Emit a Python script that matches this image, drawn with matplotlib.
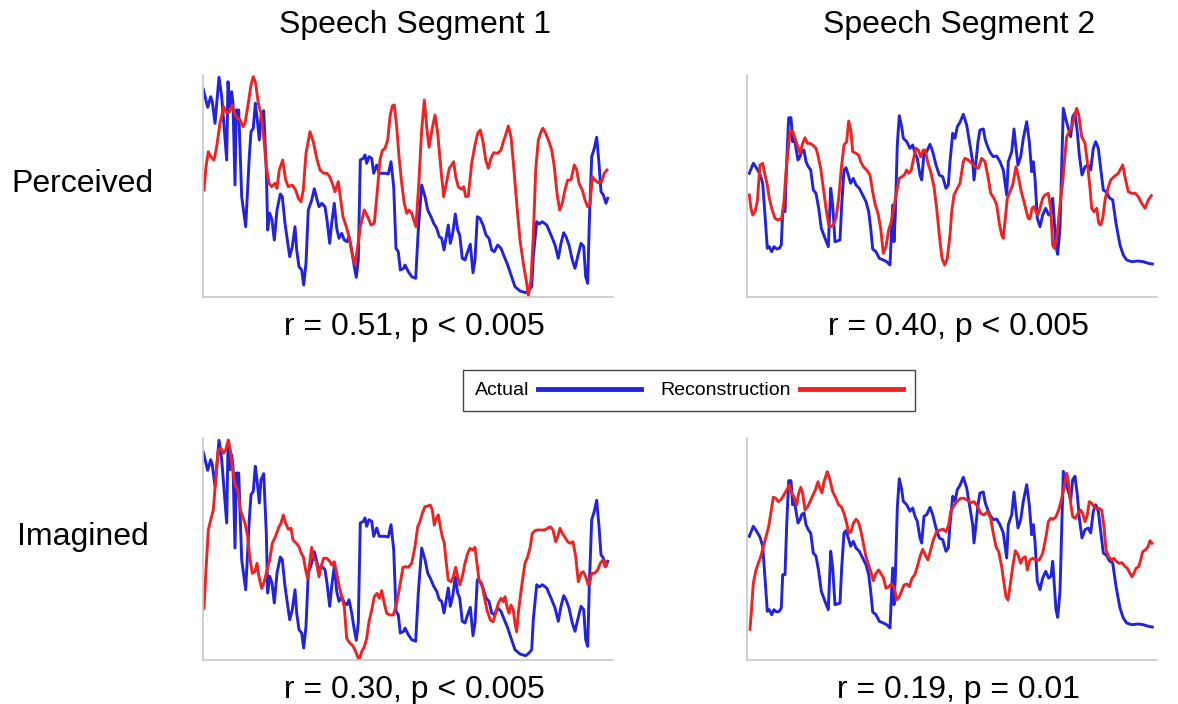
import matplotlib
matplotlib.use("Agg")
import matplotlib.pyplot as plt
from matplotlib.lines import Line2D

plt.rcParams['font.family'] = ['Liberation Sans', 'DejaVu Sans']

# ---------------------------------------------------------------- data
# time axis in frames, amplitude in arbitrary envelope units
segment_titles = ["Speech Segment 1", "Speech Segment 2"]
condition_labels = ["Perceived", "Imagined"]
stat_labels = [["r = 0.51, p < 0.005", "r = 0.40, p < 0.005"],
               ["r = 0.30, p < 0.005", "r = 0.19, p = 0.01"]]
legend_labels = ["Actual", "Reconstruction"]

actual1_t = [0.3, 4.7, 7.7, 9.3, 12, 16, 18.7, 23.7, 25, 26.7, 28.7, 30, 32, 33.3, 35.7, 38.7, 42.7, 46.3,
             48, 50.3, 52.3, 54, 56.3, 58, 60.7, 63.3, 64.7, 66.7, 69, 71.3, 74, 77.3, 79.3, 82, 86.7, 89.3,
             92, 93.7, 96, 98.7, 100.7, 103, 105.3, 108.7, 111.3, 113.7, 116, 118.7, 122, 124, 126.7, 128.7,
             131.3, 133.7, 136, 138.7, 141.3, 144, 146, 148.7, 151.3, 153.3, 155.3, 157.3, 160.3, 162, 163.7,
             166, 168.7, 170.7, 173.7, 176.3, 182, 185.3, 188, 190.7, 193, 195.3, 197.3, 200.7, 202, 205.3,
             208.7, 212.7, 215.3, 218.7, 222, 224.7, 228, 230.7, 233.7, 236.3, 238.7, 241, 243.3, 245.3, 247.3,
             249.7, 252.3, 254.7, 256.7, 259.3, 262, 264.3, 267.3, 270, 272, 274.3, 277, 280, 283, 286, 288.7,
             291.3, 294.7, 298, 301.3, 304.7, 308, 312, 317, 322.7, 326, 328.7, 330.3, 333.7, 336.3, 339.3,
             343.7, 348.7, 352, 355.3, 358, 360.7, 363, 366, 369.3, 372, 374.7, 378, 380.7, 382.7, 384.7, 386.3,
             388.7, 391.3, 393.7, 396, 398, 400.3, 403, 404.7]
actual1_v = [207.7, 189.7, 200.3, 195.3, 173.7, 219.7, 200.3, 137, 215.3, 190.3, 205.3, 193.7, 112, 187, 187,
             100.3, 70.3, 140.3, 165.3, 168.7, 193.7, 180.3, 157, 180.3, 186.3, 127, 67, 83.7, 77, 57, 87, 103,
             100.3, 73.7, 40.3, 50.3, 70.3, 47, 30.3, 27, 12, 33.7, 87, 97, 108.3, 98.7, 90.3, 93.7, 90.3, 77,
             53.7, 73.7, 93.7, 68.7, 58.7, 63.7, 57, 55.3, 60.3, 47, 30.3, 19.7, 37, 137, 138.7, 142, 133.7,
             140.3, 138.7, 123.7, 132, 123.7, 123.7, 123, 135.3, 110.3, 48.7, 45.3, 27, 28.7, 32, 25.3, 20.3,
             18.7, 67, 112, 100.3, 87, 80.3, 73.7, 68.7, 60.3, 58.7, 47, 60.3, 72, 53.7, 63.7, 83, 67, 62, 38.7,
             37, 44.3, 52.7, 24.3, 37, 80.3, 78.7, 72, 62, 58.7, 47, 45.3, 52, 48.7, 40.3, 32, 22, 10.3, 6, 4.3,
             7, 10.3, 40.3, 75.3, 73, 75.3, 72, 60.3, 52, 38.7, 53.7, 64.3, 60.3, 52, 37, 28.7, 40.3, 53.7, 50.3,
             20.3, 13.7, 73.7, 140.3, 148.7, 159.7, 133.7, 105.3, 102, 93.7, 98.7]

perceived1_t = [1, 3, 5.3, 7.7, 11, 13.7, 17, 20.7, 23.7, 26.7, 29.3, 32, 34.7, 37.3, 40, 42, 45.3, 48, 50.3,
                52.7, 55.3, 58, 61, 63.3, 66, 68.7, 72, 74, 76.3, 79.7, 82.7, 85.3, 89.3, 92.7, 95.3, 98, 100.3,
                103, 107, 110.3, 113.7, 117, 120.7, 124, 126.7, 129.3, 132, 135.3, 137.3, 140, 143.3, 146, 148.7,
                152, 154.7, 157.3, 161.3, 164.7, 168, 171.3, 174.7, 177, 179.3, 182, 184.7, 187, 189.3, 191.3,
                193.7, 196, 198.7, 201.3, 203.7, 206, 208.7, 213, 216, 218.7, 221.3, 223.7, 226, 229.3, 232,
                234.7, 238, 240.7, 243.3, 246.3, 248.7, 250.7, 252.7, 255.3, 258.7, 260.7, 262.7, 265.3, 268.7,
                272, 274.7, 277.3, 280, 282.7, 285.3, 288, 290.7, 294.7, 298, 300.3, 302.7, 305.3, 308, 310.7,
                314, 317, 320.3, 323.7, 325.3, 328, 330.3, 332.7, 335.3, 338.7, 340, 342.7, 346, 348.7, 351.3,
                354, 356.7, 359.3, 362, 364.7, 368, 371.3, 373.7, 376, 379.3, 382, 384.7, 387, 389.3, 392, 395.3,
                398.7, 401.3, 404]
perceived1_v = [107, 130.3, 145.3, 140.3, 137, 150.3, 173.7, 190.3, 183.7, 185.3, 192, 182, 178.7, 177, 170.3,
                173.7, 193.7, 212, 220.3, 213.7, 193.7, 183.7, 157, 130.3, 113.7, 110.3, 113.7, 108.7, 127, 137,
                117, 110.3, 112, 107, 98.7, 95.3, 107, 143.7, 165.3, 155.3, 138.7, 127, 123.7, 123.7, 120.3, 113.7,
                105.3, 115.3, 100.3, 80.3, 70.3, 60.3, 45.3, 32, 50.3, 70.3, 87, 80.3, 72, 73.7, 110.3, 137, 146.3,
                148.7, 157, 180.3, 191, 192, 170.3, 140.3, 113.7, 93.7, 83.7, 87, 83.7, 70.3, 117, 167, 197, 170.3,
                149.7, 168.7, 182, 163.7, 127, 100.3, 113.7, 128.7, 132, 135.3, 120.3, 110.3, 107.7, 110.3, 100.3,
                101, 133.7, 152, 163.7, 167, 155.3, 137, 128.7, 138.7, 144.3, 143.7, 147, 155.3, 162, 171, 160.3,
                130.3, 90.3, 57, 33.7, 13.7, 1, 17, 60.3, 127, 157, 167, 168.7, 163.7, 155.3, 147, 130.3, 103.7, 87,
                93.7, 107, 117, 117, 132, 127, 113.7, 107, 97, 90.3, 92, 120.3, 117, 114.3, 115.3, 123.7, 127]

imagined1_t = [1, 3, 5.3, 7.7, 10.3, 12.7, 15.3, 18, 20.3, 22.7, 25.3, 27.3, 29.3, 32, 34.7, 37, 39.7, 42, 44.7,
               46.7, 49.3, 52, 54, 56, 58.7, 61.3, 64, 66.7, 69.3, 72.7, 76, 78, 80.3, 82.7, 85.3, 88, 90, 93.3,
               96, 98, 100.3, 102.7, 104.7, 106.7, 108.7, 110.7, 113.3, 116, 118, 120.7, 124, 127, 128.7, 131.3,
               133.7, 136.3, 138.7, 141.3, 143.7, 147, 149.3, 152, 154.7, 156, 158.7, 161.3, 163.7, 166, 168.7,
               171.3, 174, 176.3, 178.7, 181.3, 183.7, 187, 190.3, 193.7, 197, 200, 202.7, 205.3, 208.7, 212,
               214.7, 217, 219.3, 222, 224.7, 227.3, 229.3, 231.3, 233.3, 235.3, 237.3, 239.3, 241.3, 243.3,
               245.3, 248, 250.3, 252.7, 254.7, 256.7, 259.3, 262, 264.7, 267, 269.7, 272, 274, 276, 278.7, 281.3,
               284, 287.3, 290, 292.7, 295.3, 298, 300.3, 302, 304, 306, 308, 310.3, 312, 313.7, 315.3, 317.3,
               319.3, 322, 324.7, 327.3, 329.3, 332, 334.7, 338, 341.3, 344.7, 347.3, 350, 352.7, 354.7, 357,
               359.3, 362, 364.7, 367.3, 370, 372.7, 375.3, 378, 380.3, 382.7, 385.3, 387, 388.7, 391.3, 394.7,
               397.3, 400, 402, 404]
imagined1_v = [51.7, 90, 130, 140, 150, 180, 210, 211.7, 206.7, 210, 220, 210, 193.3, 175, 170, 151.7, 143.3,
               136.7, 123.3, 103.3, 86.7, 88.3, 96.7, 83.3, 71.7, 78.3, 90, 100, 116.7, 124, 133.3, 136.7, 145,
               136.7, 130.7, 131.7, 120, 116.7, 113.3, 107.3, 103.3, 90, 81.7, 96.7, 112.7, 101.7, 98.3, 83.3, 93.3,
               101.7, 101.7, 98.3, 95, 98.3, 86.7, 73.3, 63.3, 53.3, 21.7, 16.7, 15, 10, 3.3, 0, 8.3, 13.3, 21.7,
               38.3, 50, 63.3, 66.7, 61.7, 69.3, 56.7, 46.7, 45, 45, 56.7, 75, 92.7, 93.3, 92.7, 96.7, 113.3, 133.3,
               138.3, 146.7, 153.3, 154, 155, 150, 135, 141.7, 145, 133.3, 123.3, 116.7, 96.7, 80, 78.3, 83.3, 92.7,
               83.3, 75, 83.3, 96.7, 106.7, 111.7, 110, 112.7, 96.7, 80, 76.7, 63.3, 50, 40, 38.3, 46.7, 56.7, 61.7,
               58.3, 63.3, 53.3, 46.7, 55, 50, 36.7, 28.3, 46.7, 63.3, 78.3, 96.7, 103.3, 113.3, 126.7, 129.3, 130,
               130, 130, 131.7, 133.3, 130, 118.3, 123.3, 131.7, 126.7, 122.7, 118.3, 116.7, 118.3, 103.3, 78.3,
               86.7, 88.3, 83.3, 75, 78.3, 86.7, 86.7, 90, 96.7, 100, 93.3, 96.7]

actual2_t = [2.3, 6.3, 9.7, 13, 15.7, 18, 20.3, 22.3, 24.7, 27, 29.7, 32.3, 34.3, 35.7, 38, 39.7, 41.7, 44,
             45.7, 47.3, 49, 51, 53, 54.7, 57, 59, 61.3, 63.7, 66.3, 69, 71.7, 74.3, 78, 81.3, 83.7, 85.7, 88,
             90.3, 93, 94.7, 97, 99, 101.3, 103.7, 106.3, 109, 112.3, 115.7, 119, 121.7, 123.7, 125.7, 129,
             132.3, 136.3, 139.7, 143, 144.3, 145.7, 147, 148.3, 150.3, 152.3, 154.7, 156.3, 159.7, 163, 165.7,
             168, 170.3, 173, 174.7, 177, 179.7, 183, 185.7, 189, 192.3, 195.7, 199, 201.3, 203, 205.7, 208,
             210.3, 213, 216.3, 219.7, 223, 225.7, 227, 229, 231, 233, 236.3, 238.3, 241.3, 243.7, 246.3, 249.7,
             253, 256.3, 259.7, 261.3, 264.7, 267, 269, 271, 273.7, 276.3, 279.7, 282.3, 284.7, 286.3, 288,
             290.3, 293, 295.7, 298.7, 301.7, 304, 305.7, 307.3, 309, 310.7, 313, 314.7, 316.3, 319, 321.3,
             323.7, 325.7, 328, 330.3, 332.3, 335, 338, 341.3, 343.7, 346.3, 348.7, 351.3, 353.7, 356.3, 359.7,
             362.3, 365.7, 369, 373, 376.3, 379.7, 384.7, 391.3, 396.3, 401.3, 405.3]
actual2_v = [123.7, 133.7, 128.7, 122.7, 113.7, 82, 48.7, 50.3, 45.3, 50.3, 48, 48.7, 52, 85.3, 85.3, 135.3,
             179.3, 179.3, 155.3, 160.3, 148.7, 137, 140.3, 145.3, 147, 135.3, 130.3, 127, 107, 103.7, 88.7, 68.7,
             58.7, 50.3, 108.7, 92, 55.3, 56, 57, 92, 127, 129.3, 122, 113.7, 118.7, 112, 108.7, 102, 95.3, 85.3,
             68.7, 48, 45.3, 38.7, 37, 35.3, 32, 62, 92, 55.3, 82, 152, 181.3, 170.3, 158.7, 155.3, 148.7, 152,
             143.7, 138.7, 122, 117, 143.7, 145.3, 152.7, 145.3, 132, 122, 120.3, 108.7, 112, 135.3, 163.7,
             158.7, 170.3, 174.7, 182.7, 172, 152, 135.3, 117, 135.3, 155.3, 167, 168, 157, 148.7, 143.7, 140.3,
             141, 135.3, 127, 102, 135.3, 145.3, 168, 148.7, 132, 140.3, 158.7, 175.3, 155.3, 125.3, 135.3,
             118.7, 78.7, 70.3, 82, 88.7, 82, 83.7, 98.7, 75.3, 50.3, 42.7, 68.7, 128.7, 188.7, 177, 168.7,
             160.3, 180.3, 183.7, 165.3, 142, 122, 130.3, 132, 127, 148.7, 155.3, 148.7, 128.7, 107, 104.7, 99.3,
             97, 73.7, 52, 42, 37, 35.3, 36, 35.3, 33.7, 33]

perceived2_t = [2.3, 4, 5.7, 8, 10.3, 13, 15.7, 18, 20.3, 22.3, 24.7, 28, 31.3, 34.7, 37, 39, 41.3, 43, 45.7,
                48, 50.3, 53, 55.7, 58, 60.3, 63, 65.7, 69, 71.3, 73.7, 76.3, 79, 81.7, 83.7, 86.3, 89, 91.7,
                94.3, 97, 99.7, 101.7, 104, 105.7, 109, 111.7, 113.7, 116.3, 119.7, 123, 125.7, 128.3, 131,
                133.7, 136.3, 139, 141.7, 144.3, 147, 149.7, 152.3, 155, 157.3, 159.7, 161.7, 164.3, 166.3, 169,
                171.3, 173.7, 176.3, 178.3, 181, 183.7, 187, 189.7, 192.3, 195, 197.7, 200.3, 203, 204.7, 207,
                210.3, 213, 216.3, 218, 221.3, 224.7, 228, 231.3, 234.7, 238, 241.3, 243.7, 247, 249.7, 252.3,
                254.7, 256.3, 258, 260.3, 263, 265.7, 269, 271.7, 274.3, 277, 279, 281.3, 283, 285, 287, 289, 291,
                293, 295.7, 298, 301.3, 303.7, 305.7, 307.3, 309.7, 313, 315.7, 318, 319.7, 322.3, 325, 327,
                329.7, 331.7, 334.7, 338, 340.3, 343, 344.7, 347, 349.7, 351.7, 353.7, 355.7, 358.3, 361, 363.7,
                367, 371.3, 375.7, 378.3, 381.3, 384.7, 388.3, 391.3, 394.7, 398, 401.3, 404.3]
perceived2_v = [102, 88.7, 82, 85.3, 95.3, 132, 133.7, 122, 112, 98.7, 88.7, 78.7, 77, 78.7, 95.3, 125.3, 148.7,
                165.3, 166, 158.7, 152, 143.7, 153.7, 159.3, 153.7, 153.7, 152, 148.7, 140.3, 128.7, 108.7, 88.7,
                72, 70.3, 72, 78.7, 98.7, 128.7, 152, 155.3, 176, 165.3, 145.3, 143.7, 142, 135.3, 130.3, 127,
                122, 105.3, 92, 83.7, 68.7, 43.7, 50.3, 67, 75.3, 90.3, 105.3, 118.7, 120.3, 122, 127, 123.7, 127,
                137, 148.7, 147, 140.3, 147, 147, 133.7, 125.3, 110.3, 88.7, 62, 38.7, 32, 38.7, 62, 85.3, 102,
                108.7, 113.7, 135.3, 138.7, 137, 133.7, 130.3, 128.7, 138.7, 135.3, 118.7, 103.7, 98.7, 92, 73.7,
                62, 58.7, 75.3, 98.7, 105.3, 112, 130.3, 118.7, 105.3, 95.3, 87, 78.7, 78, 88.7, 90.3, 85.3, 82,
                88.7, 98.7, 102, 103.7, 88.7, 52, 48.7, 58.7, 92, 115.3, 142, 160.3, 165.3, 170.3, 178.7, 188.7,
                182, 160.3, 153.7, 135.3, 108.7, 88.7, 85.3, 88.7, 73.7, 72, 78.7, 98.7, 108.7, 117, 120.3, 123.7,
                132, 118.7, 105.3, 103.7, 103.7, 100.3, 93.7, 88.7, 97, 101.3]

imagined2_t = [3, 4.7, 6.3, 9, 11.3, 13.7, 16.3, 19, 21.7, 24.3, 26.3, 29, 31.3, 33.7, 36.3, 39.7, 42.3, 44.7,
               47, 49.7, 51.7, 53.7, 55.7, 58, 60.7, 63, 65.7, 68.3, 71, 73, 75, 77, 80.3, 83, 85.7, 89, 91.7,
               94.3, 97, 99.7, 101.7, 104, 106.3, 109, 111.3, 113.7, 116.3, 119, 121.7, 124.3, 126.3, 129, 131.7,
               133.7, 136.3, 139, 141.7, 144.3, 147, 149.7, 152.3, 155, 157, 159.7, 162.3, 165, 167.7, 170.3, 173,
               175.7, 178.3, 181, 183.7, 186.3, 189.7, 193, 196.3, 199, 201.7, 203.7, 206.3, 209.7, 213.7, 217,
               220.3, 223.7, 227, 230.3, 233.7, 237, 240.3, 243.7, 246.3, 249, 251.7, 254.7, 257, 259, 261, 263,
               265.7, 268.3, 271, 273.7, 275.7, 278.3, 280.3, 283, 285.7, 289, 292.3, 295.7, 299, 301.3, 303.7,
               306.3, 309, 311.7, 314.3, 317, 319.7, 321.7, 323.7, 325.7, 328.3, 331, 333.7, 335.7, 338, 340.3,
               342.3, 344.7, 347, 349.7, 352.3, 354.7, 357, 359, 361.7, 364.7, 367, 369.7, 372.3, 375, 377.7,
               380.3, 383, 385, 387, 389, 391.7, 393.7, 395.7, 398.3, 401, 403, 405]
imagined2_v = [30.7, 53.3, 76.7, 90, 96.7, 103.3, 113.3, 123.3, 133.3, 150, 162.7, 161.7, 158.3, 160, 164, 170,
               175, 166.7, 163.3, 155, 166.7, 172.7, 166.7, 150, 153.3, 158.3, 164, 170, 178.3, 171.7, 167.3, 178.3,
               188.3, 180, 168.3, 161.7, 155, 153.3, 146.7, 136.7, 126.7, 128.3, 136.7, 140.7, 138.3, 130, 116.7,
               103.3, 95, 86.7, 79.3, 86.7, 90, 86.7, 82.7, 71.7, 73.3, 76, 73.3, 60, 63.3, 70, 75, 76, 73.3, 81.7,
               85, 93.3, 103.3, 110.7, 105, 100, 110, 120, 128.3, 130, 130.7, 128.3, 135, 148.3, 153.3, 158.3,
               161.7, 161.7, 160, 157.3, 158.3, 154, 146.7, 145, 148.3, 141.7, 126.7, 113.3, 108.3, 93.3, 76.7,
               63.3, 60, 73.3, 93.3, 109.3, 105, 96.7, 101.7, 103.3, 90, 100, 101.7, 100, 100, 106.7, 123.3, 138.3,
               141.7, 140.7, 143.3, 150, 160, 171.7, 186.7, 176.7, 156.7, 143.3, 141.7, 146.7, 150, 146.7, 138.3,
               145, 158.3, 156.7, 153.3, 151.7, 151.7, 150, 133.3, 110, 103.3, 100, 101.7, 98.3, 96.7, 97.3, 94,
               91.7, 86.7, 83.3, 86.7, 91.7, 93.3, 100, 108.3, 110, 113.3, 119.3, 116.7]

reconstructions = [[(perceived1_t, perceived1_v), (perceived2_t, perceived2_v)],
                   [(imagined1_t, imagined1_v), (imagined2_t, imagined2_v)]]
actuals = [(actual1_t, actual1_v), (actual2_t, actual2_v)]

# ---------------------------------------------------------------- style
W, H = 1178, 704
BLUE = "#2323dc"
RED = "#ec2424"
SPINE = "#c8c8c8"
LW = 2.1
FS = 23

fig = plt.figure(figsize=(W / 100, H / 100), dpi=100)

col_left = [203, 747]
row_bottom = [297, 660]
ax_w, ax_h = 410, 222

for r in range(2):
    for c in range(2):
        ax = fig.add_axes([col_left[c] / W, 1 - row_bottom[r] / H, ax_w / W, ax_h / H])
        at, av = actuals[c]
        rt, rv = reconstructions[r][c]
        ax.plot(at, av, color=BLUE, lw=LW, solid_joinstyle="round")
        ax.plot(rt, rv, color=RED, lw=LW, solid_joinstyle="round")
        ax.set_xlim(0, 410)
        ax.set_ylim(0, 222)
        ax.set_xticks([])
        ax.set_yticks([])
        for side in ("top", "right"):
            ax.spines[side].set_visible(False)
        for side in ("left", "bottom"):
            ax.spines[side].set_color(SPINE)
            ax.spines[side].set_linewidth(1.2)
        ax.patch.set_alpha(0)

# column titles
for c, title in enumerate(segment_titles):
    fig.text((col_left[c] + 212) / W, 1 - 33 / H, title, ha="center", va="baseline", fontsize=FS)

# row labels
row_baselines = [192, 545]
row_x = [11, 17]
for r, label in enumerate(condition_labels):
    fig.text(row_x[r] / W, 1 - row_baselines[r] / H, label, ha="left", va="baseline", fontsize=FS)

# correlation statistics under each panel
stat_baselines = [335, 698]
for r in range(2):
    for c in range(2):
        fig.text((col_left[c] + 211) / W, 1 - stat_baselines[r] / H, stat_labels[r][c],
                 ha="center", va="baseline", fontsize=FS)

# legend
handles = [Line2D([], [], color=BLUE, lw=3.5), Line2D([], [], color=RED, lw=3.5)]
leg = fig.legend(handles, legend_labels, loc="center", bbox_to_anchor=(689 / W, 1 - 390.5 / H),
                 ncol=2, markerfirst=False, fontsize=14, handlelength=5.3, handletextpad=0.45,
                 columnspacing=1.0, frameon=True, fancybox=False, framealpha=1,
                 borderpad=0.6, borderaxespad=0, edgecolor="#444444")
leg.get_frame().set_linewidth(1.0)

fig.savefig("out.png", dpi=100)
